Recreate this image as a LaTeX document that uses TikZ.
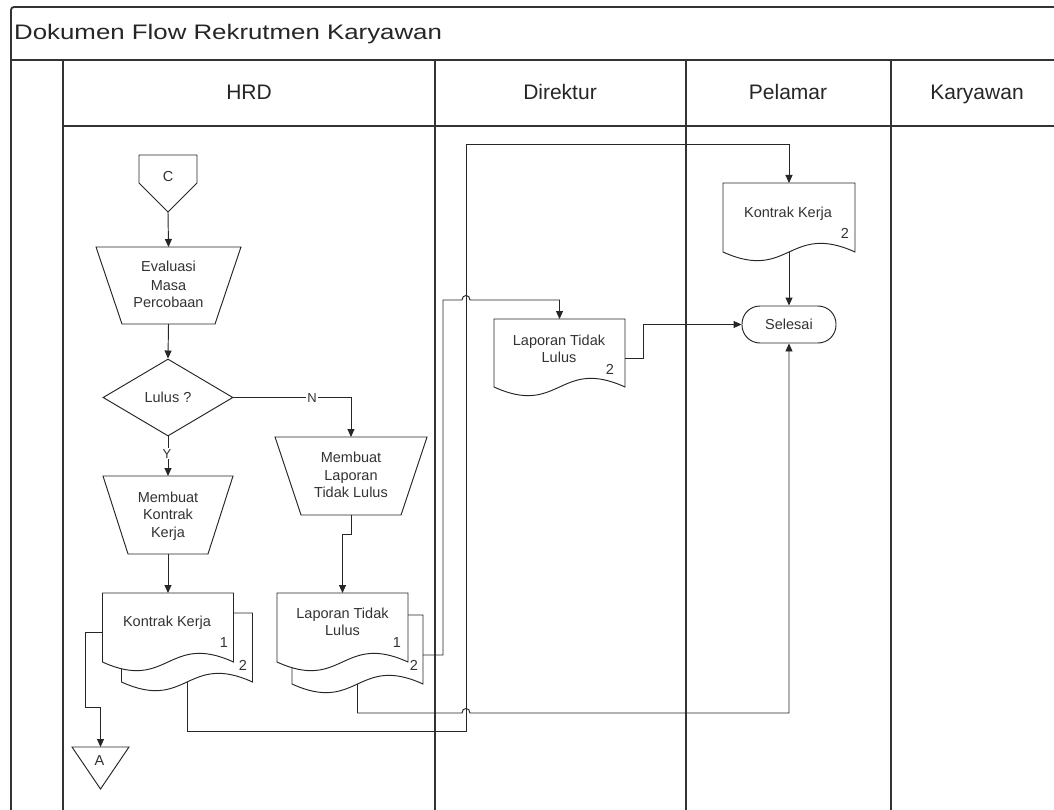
\documentclass[tikz,border=0pt]{standalone}
\usepackage{fontspec}
\setmainfont{Liberation Sans}
\newfontfamily\titlefont[FakeStretch=1.23]{Liberation Sans}
\usetikzlibrary{arrows.meta,shapes.geometric,calc}
\newcommand{\docshape}[1]{\filldraw[shp] let \p1=(#1.north west), \p2=(#1.south east) in (\p1) -- (\x2,\y1) -- (\p2) .. controls ({0.5*\x1+0.5*\x2},{\y2+30pt}) and ({0.5*\x1+0.5*\x2},{\y2-30pt}) .. (\x1,\y2) -- cycle;}
\newcommand{\trapshape}[2]{\filldraw[shp] (#1.north west) -- (#1.north east) -- ([xshift=-#2]#1.south east) -- ([xshift=#2]#1.south west) -- cycle;}
\begin{document}
\begin{tikzpicture}[x=1pt,y=-1pt,
 lane/.style={line width=1.8pt, draw=black!80},
 conn/.style={line width=0.95pt, draw=black!85},
 arr/.style={conn, -{Triangle[length=8pt,width=7pt]}},
 shp/.style={line width=0.95pt, draw=black!85, fill=white},
 box/.style={draw=none, inner sep=0pt, outer sep=0pt},
 t/.style={anchor=base, inner sep=0pt, font=\fontsize{14.5}{17}\selectfont, text=black!80},
 hd/.style={anchor=base, inner sep=0pt, font=\fontsize{21}{24}\selectfont, text=black!85},
 yn/.style={anchor=base, inner sep=1pt, fill=white, font=\fontsize{13}{15}\selectfont, text=black!80}]
\useasboundingbox (0,0) rectangle (1054,810);
\fill[white] (0,0) rectangle (1054,810);
% frame and lanes
\draw[lane, rounded corners=3pt] (1054,7) -- (11,7) -- (11,810);
\draw[lane] (11,60) -- (1054,60);
\draw[lane] (63,126) -- (1054,126);
\foreach \x in {63,435,686,891} \draw[lane] (\x,60) -- (\x,810);
\node[anchor=base west, inner sep=0pt, text=black!85, font=\titlefont\fontsize{21}{24}\selectfont] (title) at (14,39.5) {Dokumen Flow Rekrutmen Karyawan};
\node[hd] (hHRD) at (249,99.5) {HRD};
\node[hd] (hDir) at (560,99.5) {Direktur};
\node[hd] (hPel) at (788,99.5) {Pelamar};
\node[hd] (hKar) at (977,99.5) {Karyawan};
% shape anchors
\node[box, minimum width=58pt, minimum height=57pt] (C) at (168,183.5) {};
\node[box, minimum width=145pt, minimum height=77pt] (ev) at (168.5,285.5) {};
\node[diamond, shp, aspect=1.69, minimum width=130pt, minimum height=77pt, inner sep=0pt] (dia) at (168,397.5) {};
\node[box, minimum width=130pt, minimum height=78pt] (mk) at (168,515) {};
\node[box, minimum width=152pt, minimum height=78pt] (ml) at (351,476) {};
\node[box, minimum width=131pt, minimum height=69pt] (kk2) at (187,647.5) {};
\node[box, minimum width=131pt, minimum height=69pt] (kk) at (168,627.5) {};
\node[box, minimum width=131pt, minimum height=69pt] (lt2) at (357.5,649.5) {};
\node[box, minimum width=131pt, minimum height=69pt] (lt) at (342.5,627.5) {};
\node[box, minimum width=131pt, minimum height=68pt] (ld) at (559.5,353) {};
\node[box, minimum width=132pt, minimum height=69pt] (pk) at (789,217.5) {};
\node[shp, rounded corners=18pt, minimum width=94pt, minimum height=37pt, inner sep=0pt] (sel) at (789,324.5) {};
\node[box, minimum width=57pt, minimum height=42pt] (A) at (100.5,768) {};
% shapes
\filldraw[shp] (C.north west) -- (C.north east) -- ([yshift=-28pt]C.north east) -- (C.south) -- ([yshift=-28pt]C.north west) -- cycle;
\trapshape{ev}{26pt}
\trapshape{mk}{25pt}
\trapshape{ml}{26pt}
\docshape{kk2}
\docshape{kk}
\docshape{lt2}
\docshape{lt}
\docshape{ld}
\docshape{pk}
\filldraw[shp] (A.north west) -- (A.north east) -- (A.south) -- cycle;
% connectors
\coordinate (j1) at (466,144);
\draw[arr] (C.south) -- (ev.north);
\draw[arr] (ev.south) -- (dia.north);
\draw[arr] (dia.south) -- (mk.north);
\draw[arr] (dia.east) -| (ml.north);
\draw[arr] (mk.south) -- (kk.north);
\draw[arr] (ml.south) -- ++(0,19) -| (lt.north);
\draw[arr] ([yshift=-4.5pt]kk.west) -- ++(-17,0) |- ($(A.north)+(0,-40)$) -- (A.north);
\draw[arr] (kk2.south) -- ++(0,49) -| (j1) -| (pk.north);
\draw[arr] ([yshift=-5.5pt]lt2.east) -- ++(20,0) -- (443,300) -- (462,300) .. controls (462,294) and (470,294) .. (470,300) -| (ld.north);
\draw[arr] (lt2.south) -- ++(0,29) -- (462,713) .. controls (462,707) and (470,707) .. (470,713) -| (sel.south);
\draw[arr] ([yshift=-5pt]ld.east) -- ++(18,0) |- (sel.west);
\draw[arr] (pk.south) -- (sel.north);
% labels
\node[yn] (lY) at (167,458) {Y};
\node[yn] (lN) at (312,402.5) {N};
% texts
\node[t] at (168,182) {C};
\node[t] at (168.5,272) {Evaluasi};
\node[t] at (168.5,290) {Masa};
\node[t] at (168.5,307) {Percobaan};
\node[t] at (168,402) {Lulus ?};
\node[t] at (168,502) {Membuat};
\node[t] at (168,519) {Kontrak};
\node[t] at (168,537) {Kerja};
\node[t] at (351,462) {Membuat};
\node[t] at (351,480) {Laporan};
\node[t] at (351,497) {Tidak Lulus};
\node[t] at (167,626.5) {Kontrak Kerja};
\node[t] at (224,647) {1};
\node[t] at (243,670) {2};
\node[t] at (342.5,618) {Laporan Tidak};
\node[t] at (342.5,635) {Lulus};
\node[t] at (397,647) {1};
\node[t] at (414,670) {2};
\node[t] at (559,345) {Laporan Tidak};
\node[t] at (559,362) {Lulus};
\node[t] at (610,374) {2};
\node[t] at (788,218) {Kontrak Kerja};
\node[t] at (845,238.5) {2};
\node[t] at (789,329) {Selesai};
\node[t] at (99.5,765) {A};
\end{tikzpicture}
\end{document}
